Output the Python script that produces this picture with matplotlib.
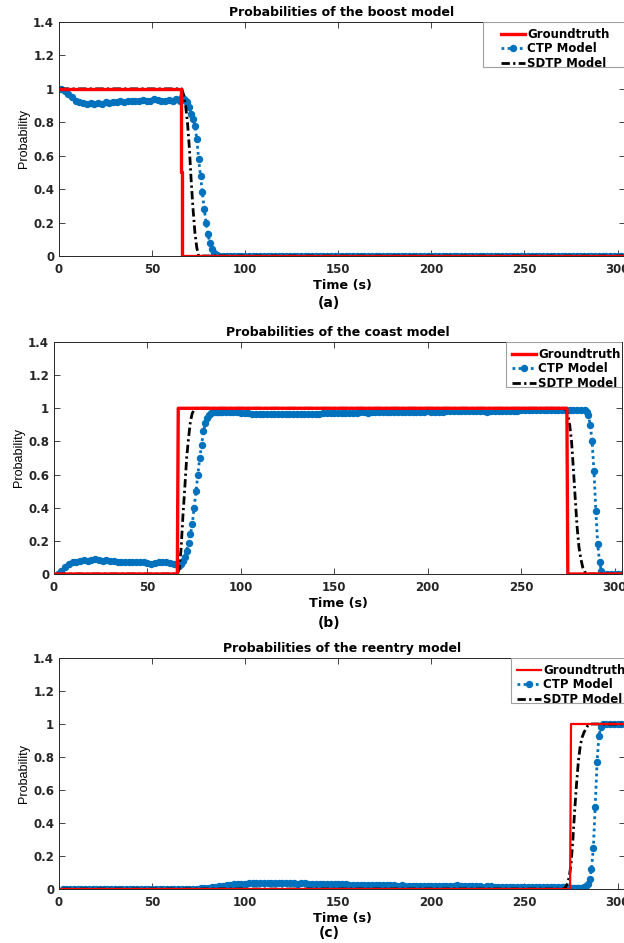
import numpy as np
import matplotlib
matplotlib.use("Agg")
import matplotlib.pyplot as plt
from matplotlib.patches import Rectangle

# ---------------- data ----------------
titles = ["Probabilities of the boost model",
          "Probabilities of the coast model",
          "Probabilities of the reentry model"]
panel_tags = ["(a)", "(b)", "(c)"]
legend_labels = ["Groundtruth", "CTP Model", "SDTP Model"]
ytick_vals = [0, 0.2, 0.4, 0.6, 0.8, 1, 1.2, 1.4]
ytick_text = ["0", "0.2", "0.4", "0.6", "0.8", "1", "1.2", "1.4"]
xtick_vals = [0, 50, 100, 150, 200, 250, 300]

# boost model
boost_gt_t = [1, 65.5, 65.5, 66, 66, 304]
boost_gt_p = [1, 1, 0.5, 0.5, 0, 0]
boost_sdtp_t = [1, 65, 66, 67, 68, 69, 70, 71, 72, 73, 74, 75, 76, 304]
boost_sdtp_p = [1, 1, 1.0, 0.96, 0.9, 0.8, 0.65, 0.45, 0.28, 0.14, 0.05, 0.0, 0, 0]
boost_ctp_t = np.r_[1:66:2, 66:87, 88:305:2]
boost_ctp_p = ([1.00, 0.99, 0.97, 0.95, 0.93, 0.92, 0.915, 0.91, 0.915, 0.91, 0.915,
                0.91, 0.92, 0.915, 0.92, 0.92, 0.925, 0.92, 0.925, 0.93, 0.925, 0.93,
                0.935, 0.93, 0.93, 0.94, 0.935, 0.93, 0.93, 0.935, 0.93, 0.94, 0.93]
               + [0.95, 0.94, 0.93, 0.92, 0.89, 0.85, 0.82, 0.78, 0.70, 0.58, 0.48,
                  0.38, 0.28, 0.20, 0.13, 0.08, 0.04, 0.02, 0.01, 0.005, 0.0]
               + [0.0] * 109)

# coast model
coast_gt_t = [1, 66, 66.5, 274.5, 275, 304]
coast_gt_p = [0, 0, 1, 1, 0, 0]
coast_sdtp_t = [2, 66, 67, 68, 69, 70, 71, 72, 73, 74, 75, 76, 273, 274, 275, 276,
                277, 278, 279, 280, 281, 282, 283, 284, 285, 304]
coast_sdtp_p = [0, 0, 0.03, 0.15, 0.35, 0.52, 0.7, 0.82, 0.92, 0.97, 0.99, 1.0, 1.0,
                0.99, 0.96, 0.9, 0.8, 0.63, 0.45, 0.28, 0.16, 0.09, 0.04, 0.015, 0.0, 0]
coast_ctp_t = np.r_[2:67:2, 67:91, 92:285:2, 285:295, 296:305:2]
coast_ctp_p = ([0.0, 0.02, 0.04, 0.06, 0.075, 0.075, 0.08, 0.085, 0.08, 0.085, 0.09,
                0.085, 0.08, 0.085, 0.08, 0.08, 0.075, 0.075, 0.07, 0.075, 0.07, 0.07,
                0.075, 0.07, 0.065, 0.06, 0.065, 0.07, 0.075, 0.07, 0.065, 0.06, 0.06]
               + [0.05, 0.06, 0.08, 0.10, 0.14, 0.19, 0.24, 0.30, 0.40, 0.50, 0.60, 0.70,
                  0.78, 0.86, 0.91, 0.94, 0.96, 0.97, 0.975, 0.98, 0.98, 0.98, 0.98, 0.978]
               + [0.978, 0.977, 0.975, 0.975, 0.974, 0.972, 0.970, 0.968, 0.966, 0.965,
                  0.965, 0.964, 0.963, 0.964, 0.965, 0.966, 0.966, 0.965, 0.966, 0.967,
                  0.967, 0.966, 0.966, 0.967, 0.968, 0.968, 0.969, 0.970, 0.970, 0.971,
                  0.972, 0.972, 0.973, 0.973, 0.972, 0.974, 0.975, 0.975, 0.974, 0.975,
                  0.976, 0.976, 0.977, 0.977, 0.976, 0.978, 0.978, 0.979, 0.978, 0.979,
                  0.980, 0.980, 0.979, 0.980, 0.981, 0.980, 0.979, 0.975, 0.980, 0.981,
                  0.981, 0.982, 0.982, 0.981, 0.983, 0.983, 0.982, 0.984, 0.983, 0.984,
                  0.978, 0.985, 0.985, 0.984, 0.985, 0.986, 0.985, 0.986, 0.986, 0.987,
                  0.987, 0.987, 0.988, 0.988, 0.987, 0.988, 0.989, 0.989, 0.988, 0.989,
                  0.990, 0.990, 0.990, 0.991, 0.990, 0.990, 0.988]
               + [0.98, 0.96, 0.90, 0.80, 0.62, 0.38, 0.18, 0.07, 0.02, 0.0]
               + [0.0] * 5)

# reentry model
reentry_gt_t = [1, 274.5, 275, 304]
reentry_gt_p = [0, 0, 1, 1]
reentry_sdtp_t = [2, 271, 272, 273, 274, 275, 276, 277, 278, 279, 280, 281, 282, 283,
                  284, 285, 304]
reentry_sdtp_p = [0, 0, 0.01, 0.03, 0.07, 0.15, 0.3, 0.48, 0.64, 0.78, 0.87, 0.92,
                  0.95, 0.97, 0.99, 1.0, 1.0]
reentry_ctp_t = np.r_[2:75:2, 76:271:2, 271:293, 294:305:2]
reentry_ctp_p = ([0.0] * 37
                 + [0.004, 0.006, 0.009, 0.012, 0.015, 0.018, 0.021, 0.024, 0.026, 0.028,
                    0.030, 0.031, 0.033, 0.034, 0.036, 0.037, 0.036, 0.035, 0.036, 0.035,
                    0.034, 0.035, 0.034, 0.035, 0.036, 0.034, 0.033, 0.034, 0.035, 0.033,
                    0.032, 0.033, 0.031, 0.030, 0.031, 0.030, 0.029, 0.028, 0.029, 0.028,
                    0.027, 0.027, 0.026, 0.026, 0.025, 0.025, 0.024, 0.024, 0.023, 0.024,
                    0.023, 0.022, 0.022, 0.021, 0.022, 0.021, 0.020, 0.021, 0.020, 0.020,
                    0.019, 0.020, 0.019, 0.019, 0.018, 0.018, 0.019, 0.018, 0.017, 0.022,
                    0.017, 0.017, 0.016, 0.016, 0.017, 0.016, 0.015, 0.016, 0.020, 0.015,
                    0.015, 0.014, 0.015, 0.014, 0.014, 0.013, 0.014, 0.013, 0.013, 0.013,
                    0.012, 0.012, 0.012, 0.011, 0.011, 0.011, 0.010, 0.010]
                 + [0.010, 0.009, 0.008, 0.007, 0.006, 0.005, 0.005, 0.004, 0.005, 0.006,
                    0.008, 0.012, 0.02, 0.03, 0.06, 0.12, 0.25, 0.5, 0.77, 0.93, 0.98, 1.0]
                 + [1.0] * 6)

panels = [
    (boost_gt_t, boost_gt_p, boost_ctp_t, boost_ctp_p, boost_sdtp_t, boost_sdtp_p),
    (coast_gt_t, coast_gt_p, coast_ctp_t, coast_ctp_p, coast_sdtp_t, coast_sdtp_p),
    (reentry_gt_t, reentry_gt_p, reentry_ctp_t, reentry_ctp_p, reentry_sdtp_t, reentry_sdtp_p),
]

# ---------------- layout (pixels of a 624x943 canvas) ----------------
W, H = 624, 943
axes_px = [(59, 22, 625, 256), (54, 342, 622, 574), (59, 658, 625, 889)]
legend_px = [(483, 524), (506, 535), (511, 540)]   # frame left, text start
tag_y = [303, 623, 933]
gt_lw = [2.4, 2.4, 1.6]

BLUE = "#0072BD"
BOLD = "DejaVu Sans"

fig = plt.figure(figsize=(W / 100, H / 100), dpi=100)

for k, (gt_t, gt_p, ctp_t, ctp_p, sd_t, sd_p) in enumerate(panels):
    x0, y0, x1, y1 = axes_px[k]
    ax = fig.add_axes([x0 / W, (H - y1) / H, (x1 - x0) / W, (y1 - y0) / H])

    l_ctp, = ax.plot(ctp_t, ctp_p, color=BLUE, lw=2, linestyle=(0, (1, 1.2)),
                     marker="o", ms=4.3, mec=BLUE, mfc=BLUE, zorder=2)
    l_sd, = ax.plot(sd_t, sd_p, color="black", lw=2,
                    linestyle=(0, (3, 1.2, 0.8, 1.2)), zorder=3)
    l_gt, = ax.plot(gt_t, gt_p, color="#FF0000", lw=gt_lw[k], zorder=4)

    ax.set_xlim(0, 304)
    ax.set_ylim(0, 1.4)
    ax.set_xticks(xtick_vals)
    ax.set_yticks(ytick_vals)
    ax.set_yticklabels(ytick_text)
    ax.tick_params(direction="in", length=4, width=0.6, top=True, right=True,
                   labelsize=8.5, colors="#262626")
    ax.tick_params(axis="x", pad=5)
    ax.tick_params(axis="y", pad=3.5)
    for lab in ax.get_xticklabels() + ax.get_yticklabels():
        lab.set_fontweight("bold")
        lab.set_family(BOLD)
    for sp in ax.spines.values():
        sp.set_linewidth(0.7)
        sp.set_color("#262626")

    ax.set_title(titles[k], fontsize=9, fontweight="bold", family=BOLD, pad=4)
    ax.set_xlabel("Time (s)", fontsize=9.2, fontweight="bold", family=BOLD, labelpad=2)
    ax.set_ylabel("Probability", fontsize=9, family="Liberation Sans", labelpad=2)

    # legend without frame, frame drawn as rectangle like MATLAB's box
    lx, tx = legend_px[k]
    leg = ax.legend([l_gt, l_ctp, l_sd], legend_labels, loc="upper left",
                    bbox_to_anchor=((tx - 31 - x0) / (x1 - x0), 1.01),
                    frameon=False, handlelength=2.0, handletextpad=0.2,
                    borderpad=0.2, labelspacing=0.12,
                    prop={"family": BOLD, "weight": "bold", "size": 8.5})
    fr = Rectangle(((lx - x0) / (x1 - x0), 1 - 45 / (y1 - y0)), 1.2, 45 / (y1 - y0),
                   transform=ax.transAxes, fill=True, facecolor="white",
                   edgecolor="#a0a0a0", lw=0.8, zorder=5, clip_on=True)
    ax.add_patch(fr)
    leg.set_zorder(6)

    fig.text(329 / W, (H - tag_y[k]) / H, panel_tags[k], ha="center", va="center",
             fontsize=10, fontweight="bold", family=BOLD)

fig.savefig("out.png", dpi=100)
